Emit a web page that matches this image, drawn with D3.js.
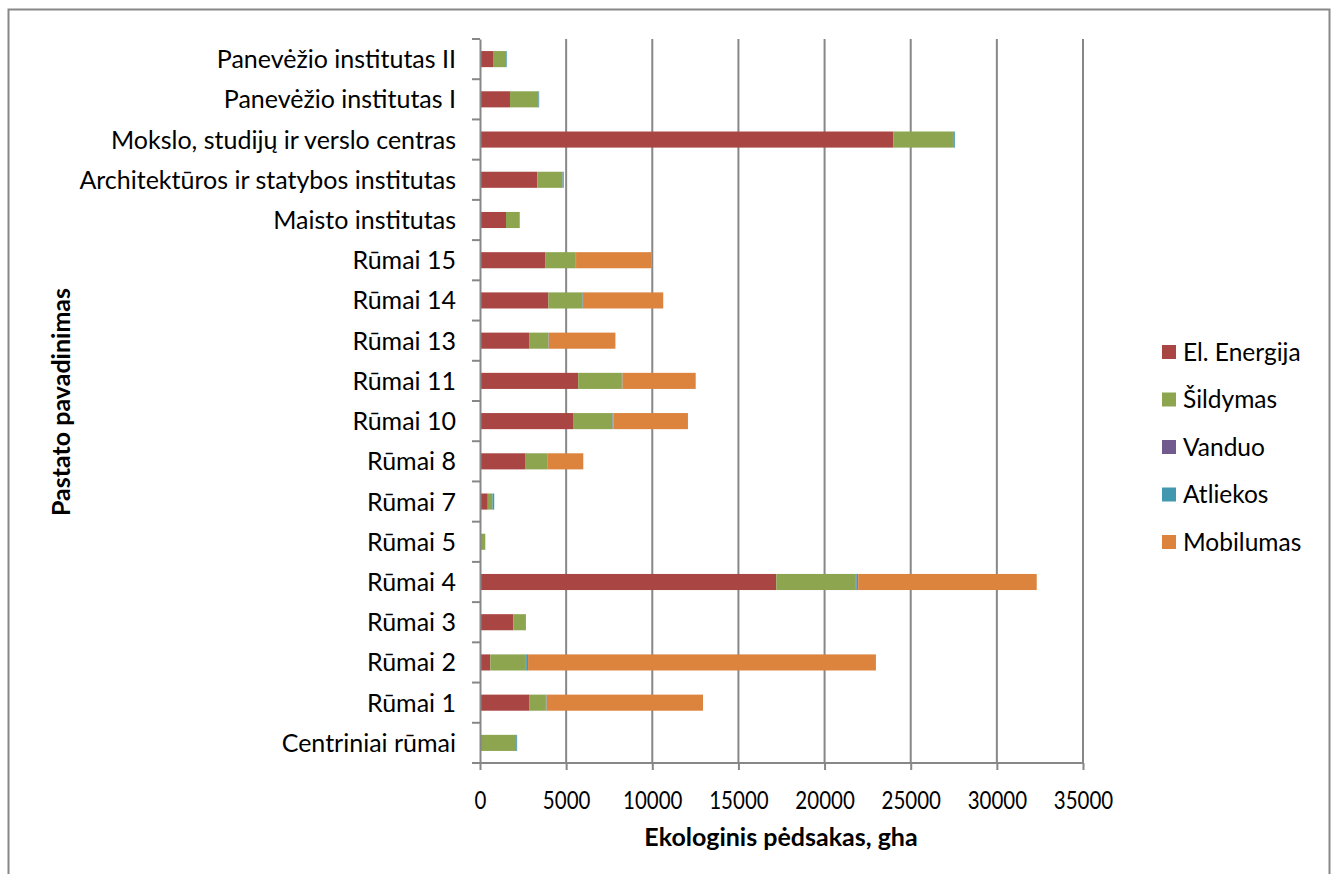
<!DOCTYPE html>
<html>
<head>
<meta charset="utf-8">
<script src="https://cdn.jsdelivr.net/npm/d3@7"></script>
<style>
  html, body { margin: 0; padding: 0; background: #fff; }
  svg { display: block; }
  text { font-family: Lato, "Open Sans", "Noto Sans", sans-serif; fill: #000; }
</style>
</head>
<body>
<svg id="chart" width="1336" height="874"></svg>
<script>
// Buildings, listed bottom to top
const categories = [
  "Centriniai rūmai", "Rūmai 1", "Rūmai 2", "Rūmai 3", "Rūmai 4", "Rūmai 5",
  "Rūmai 7", "Rūmai 8", "Rūmai 10", "Rūmai 11", "Rūmai 13", "Rūmai 14",
  "Rūmai 15", "Maisto institutas", "Architektūros ir statybos institutas",
  "Mokslo, studijų ir verslo centras", "Panevėžio institutas I", "Panevėžio institutas II"
];

const seriesNames = ["El. Energija", "Šildymas", "Vanduo", "Atliekos", "Mobilumas"];
const seriesColors = ["#A94543", "#8CA54E", "#715A8E", "#4298AF", "#DC843D"];

// Ecological footprint components, gha
const elEnergija = [100, 2850, 600, 1940, 17200, 40, 450, 2650, 5400, 5700, 2850, 3970, 3780, 1510, 3330, 24000, 1740, 755];
const sildymas   = [1990, 970, 2050, 680, 4610, 250, 270, 1260, 2290, 2520, 1100, 1980, 1760, 775, 1455, 3450, 1645, 755];
const vanduo     = [15, 20, 30, 10, 40, 5, 5, 15, 20, 20, 15, 15, 15, 10, 15, 20, 10, 5];
const atliekos   = [50, 30, 110, 40, 100, 10, 100, 20, 30, 30, 20, 60, 20, 20, 60, 90, 40, 40];
const mobilumas  = [0, 9075, 20190, 0, 10365, 0, 0, 2050, 4330, 4250, 3875, 4610, 4380, 0, 0, 0, 0, 0];

const xTicks = [0, 5000, 10000, 15000, 20000, 25000, 30000, 35000];

const seriesValues = [elEnergija, sildymas, vanduo, atliekos, mobilumas];
const rows = categories.map((c, i) => {
  const r = { name: c };
  seriesNames.forEach((s, k) => { r[s] = seriesValues[k][i]; });
  return r;
});

const svg = d3.select("#chart");

// Outer chart frame
svg.append("rect")
  .attr("x", 8.5).attr("y", 9.5)
  .attr("width", 1321).attr("height", 880)
  .attr("fill", "none").attr("stroke", "#888").attr("stroke-width", 2);

const plot = { left: 480, right: 1083, top: 39, bottom: 763 };

const x = d3.scaleLinear().domain([0, 35000]).range([plot.left, plot.right]);
const y = d3.scaleBand()
  .domain(categories.slice().reverse())
  .range([plot.top, plot.bottom])
  .paddingInner(0.6).paddingOuter(0.3);

// Vertical gridlines
svg.append("g")
  .selectAll("line")
  .data(xTicks.slice(1))
  .join("line")
  .attr("x1", d => x(d)).attr("x2", d => x(d))
  .attr("y1", plot.top).attr("y2", plot.bottom)
  .attr("stroke", "#878787").attr("stroke-width", 2);

// Stacked bars
const stack = d3.stack().keys(seriesNames);
const layers = stack(rows);
svg.append("g")
  .selectAll("g")
  .data(layers)
  .join("g")
  .attr("fill", (d, i) => seriesColors[i])
  .selectAll("rect")
  .data(d => d)
  .join("rect")
  .attr("x", d => x(d[0]))
  .attr("y", d => y(d.data.name))
  .attr("width", d => Math.max(0, x(d[1]) - x(d[0])))
  .attr("height", y.bandwidth());

// Category axis (left)
const yAxis = d3.axisLeft(y).tickSize(0).tickPadding(24);
const gy = svg.append("g").attr("transform", `translate(${plot.left},0)`).call(yAxis);
gy.select(".domain").attr("stroke", "#878787").attr("stroke-width", 2);
gy.selectAll("text")
  .style("font-size", "25px")
  .style("font-family", "Lato, 'Open Sans', sans-serif")
  .attr("dy", "0.36em");
// Tick marks at band boundaries
const step = (plot.bottom - plot.top) / categories.length;
svg.append("g")
  .selectAll("line")
  .data(d3.range(categories.length + 1))
  .join("line")
  .attr("x1", plot.left - 8).attr("x2", plot.left)
  .attr("y1", i => plot.top + i * step).attr("y2", i => plot.top + i * step)
  .attr("stroke", "#878787").attr("stroke-width", 2);

// Value axis (bottom)
const xAxis = d3.axisBottom(x).tickValues(xTicks).tickSize(7).tickPadding(12).tickFormat(d3.format("d"));
const gx = svg.append("g").attr("transform", `translate(0,${plot.bottom})`).call(xAxis);
gx.select(".domain").attr("stroke", "#878787").attr("stroke-width", 2).attr("d", `M${plot.left},0H${plot.right}`);
gx.selectAll(".tick line").attr("stroke", "#878787").attr("stroke-width", 2);
gx.selectAll(".tick text")
  .style("font-size", "25px")
  .style("font-family", "Lato, 'Open Sans', sans-serif")
  .attr("x", 0).attr("y", 0).attr("dy", 0)
  .attr("transform", "translate(0,46) scale(0.82,1)");

// Axis titles
svg.append("text")
  .attr("x", 781).attr("y", 846)
  .attr("text-anchor", "middle")
  .style("font-size", "25px").style("font-weight", "bold")
  .text("Ekologinis pėdsakas, gha");

svg.append("text")
  .attr("transform", "translate(70,402) rotate(-90)")
  .attr("text-anchor", "middle")
  .style("font-size", "25px").style("font-weight", "bold")
  .text("Pastato pavadinimas");

// Legend
const legend = svg.append("g").attr("transform", "translate(1162,352)");
const lg = legend.selectAll("g")
  .data(seriesNames)
  .join("g")
  .attr("transform", (d, i) => `translate(0,${i * 47.5})`);
lg.append("rect")
  .attr("x", 0).attr("y", -7)
  .attr("width", 14).attr("height", 14)
  .attr("fill", (d, i) => seriesColors[i]);
lg.append("text")
  .attr("x", 21).attr("y", 0)
  .attr("dy", "0.36em")
  .style("font-size", "24.5px")
  .text(d => d);
</script>
</body>
</html>
